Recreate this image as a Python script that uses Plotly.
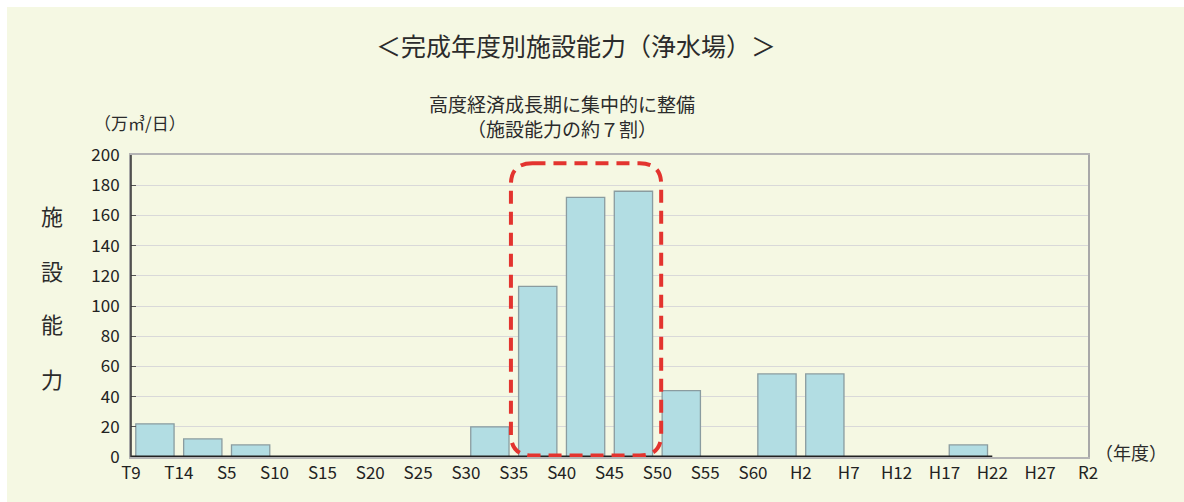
import plotly.graph_objects as go
import numpy as np

# Era boundary labels (tick labels along x axis)
boundary_labels = ["T9", "T14", "S5", "S10", "S15", "S20", "S25", "S30", "S35", "S40",
                   "S45", "S50", "S55", "S60", "H2", "H7", "H12", "H17", "H22", "H27", "R2"]
# Facility capacity per 5-year period (万㎥/日), periods starting at T9
capacity = [22, 12, 8, 0, 0, 0, 0, 20, 113, 172, 176, 44, 0, 55, 55, 0, 0, 8]
y_ticks = [0, 20, 40, 60, 80, 100, 120, 140, 160, 180, 200]

FONT = "Noto Sans CJK JP"
n_slots = len(boundary_labels) - 1
bar_x = np.arange(len(capacity)) + 0.5

fig = go.Figure()
fig.add_trace(go.Bar(
    x=bar_x, y=capacity, width=0.8,
    marker=dict(color="#b2dde3", line=dict(color="#8a9ca0", width=1.3)),
    hoverinfo="y", showlegend=False,
))
# baseline for periods with data (zero-height bars)
fig.add_trace(go.Scatter(
    x=[0, len(capacity)], y=[0, 0], mode="lines",
    line=dict(color="#222222", width=3), hoverinfo="skip", showlegend=False,
))

L, R, T, B = 131, 1088, 155, 457
W, H = 1184, 502
def px(x):
    return (x - L) / (R - L)
def py(y):
    return (B - y) / (B - T)

# red dashed rounded rectangle
x0, x1, y0, y1 = 7.94, 11.08, 1.0, 194.5
rx, ry = 0.45, 14.0
path = (f"M {x0+rx},{y1} L {x1-rx},{y1} Q {x1},{y1} {x1},{y1-ry} "
        f"L {x1},{y0+ry} Q {x1},{y0} {x1-rx},{y0} L {x0+rx},{y0} "
        f"Q {x0},{y0} {x0},{y0+ry} L {x0},{y1-ry} Q {x0},{y1} {x0+rx},{y1} Z")

shapes = [
    dict(type="rect", xref="paper", yref="paper", x0=px(7), x1=px(W), y0=py(H), y1=py(7),
         fillcolor="#f5f8e3", line=dict(width=0), layer="below"),
    dict(type="path", xref="x", yref="y", path=path,
         line=dict(color="#e3342f", width=4, dash="13px,8px"), layer="above"),
    dict(type="line", xref="paper", yref="paper", x0=0, x1=0, y0=0, y1=1,
         line=dict(color="#333333", width=1.5)),
]

annotations = [
    dict(text="＜完成年度別施設能力（浄水場）＞", x=px(576), y=py(45), font=dict(size=25, color="#2b2b2b")),
    dict(text="高度経済成長期に集中的に整備", x=px(562), y=py(103), font=dict(size=19, color="#2b2b2b")),
    dict(text="（施設能力の約７割）", x=px(562), y=py(128), font=dict(size=19, color="#2b2b2b")),
    dict(text="（万㎥/日）", x=px(92), y=py(122), xanchor="left", font=dict(size=17, color="#2b2b2b")),
    dict(text="（年度）", x=px(1093), y=py(452), xanchor="left", font=dict(size=18, color="#2b2b2b")),
]
for ch, yy in zip("施設能力", [215, 270, 323, 378]):
    annotations.append(dict(text=ch, x=px(52), y=py(yy), font=dict(size=22, color="#2b2b2b")))
for a in annotations:
    a.update(xref="paper", yref="paper", showarrow=False)
    a.setdefault("xanchor", "center")
    a.setdefault("yanchor", "middle")
    a["font"]["family"] = FONT

fig.update_layout(
    width=W, height=H,
    margin=dict(l=L, r=W - R, t=T, b=H - B),
    paper_bgcolor="white", plot_bgcolor="white",
    font=dict(family=FONT, color="#222222", size=17),
    shapes=shapes, annotations=annotations,
    bargap=0.2,
    xaxis=dict(range=[0, n_slots], tickmode="array", tickvals=list(range(n_slots + 1)),
               ticktext=boundary_labels, showgrid=False, zeroline=False,
               showline=True, linecolor="#b5b5b5", linewidth=1.5, mirror=True,
               ticks="", tickfont=dict(size=17, color="#222222"), fixedrange=True),
    yaxis=dict(range=[0, 200], tickmode="array", tickvals=y_ticks,
               showgrid=True, gridcolor="#d9d9d9", gridwidth=1, zeroline=False,
               showline=True, linecolor="#a8a8a8", linewidth=2, mirror=True,
               ticks="inside", ticklen=5, tickcolor="#555555", ticklabelstandoff=6,
               tickfont=dict(size=17, color="#222222"), fixedrange=True),
)

fig.write_html("out.html")
